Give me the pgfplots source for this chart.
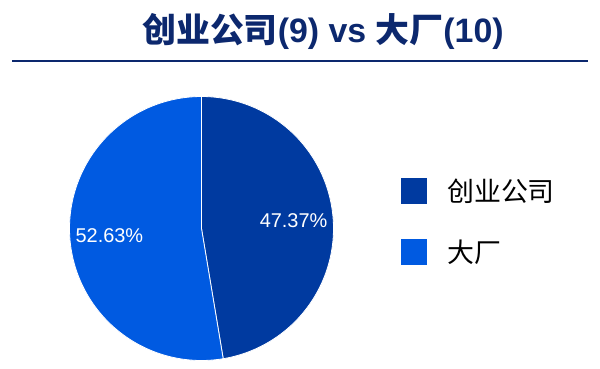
\documentclass[border=0pt]{standalone}
\usepackage{pgfplots}
\pgfplotsset{compat=1.18}
\usepackage{fontspec}
\setmainfont{Liberation Sans}
\newfontfamily\cjk{Noto Sans CJK SC}
\newfontfamily\cjkb{Noto Sans CJK SC Bold}
\definecolor{navy}{RGB}{12,40,110}
\definecolor{darkslice}{RGB}{0,58,160}
\definecolor{lightslice}{RGB}{0,90,225}
\begin{document}
\begin{tikzpicture}[x=1bp,y=1bp]
\path[use as bounding box] (0,0) rectangle (600,368);
\node[text=navy, font=\fontsize{34}{34}\selectfont\bfseries, inner sep=0pt] at (323,337)
  {{\cjkb 创业公司}(9) vs {\cjkb 大厂}(10)};
\draw[navy, line width=2bp] (12,307) -- (588,307);
% data: percentages of the two groups (9 and 10 of 19)
\def\pA{47.37}
\def\pB{52.63}
\pgfmathsetmacro\aEnd{90-3.6*\pA}
\pgfmathsetmacro\mA{90-1.8*\pA}
\pgfmathsetmacro\bEnd{\aEnd-3.6*\pB}
\pgfmathsetmacro\mB{\aEnd-1.8*\pB}
\begin{axis}[at={(201.5bp,139.5bp)}, anchor=origin, scale only axis,
  width=264bp, height=264bp, xmin=-1, xmax=1, ymin=-1, ymax=1,
  hide axis, clip=false,
  legend cell align=left,
  legend image code/.code={\path[#1, draw=none] (0bp,-13bp) rectangle (26bp,13bp);},
  legend style={at={(1.2557,0.691)}, anchor=north west, draw=none, fill=none,
    inner sep=0pt, nodes={inner sep=0pt},
    font=\cjk\fontsize{27}{27}\selectfont, row sep=35bp, column sep=20bp}]
\addplot[fill=darkslice, draw=white, line width=0.8bp, domain=\aEnd:90, samples=150, variable=\t]
  ({cos(t)},{sin(t)}) -- (axis cs:0,0) -- cycle;
\addlegendentry{创业公司}
\addplot[fill=lightslice, draw=white, line width=0.8bp, domain=\bEnd:\aEnd, samples=150, variable=\t]
  ({cos(t)},{sin(t)}) -- (axis cs:0,0) -- cycle;
\addlegendentry{大厂}
\node[text=white, font=\fontsize{20}{20}\selectfont] at (axis cs:{0.7*cos(\mA)},{0.7*sin(\mA)}) {\pA\%};
\node[text=white, font=\fontsize{20}{20}\selectfont] at (axis cs:{0.7*cos(\mB)},{0.7*sin(\mB)}) {\pB\%};
\end{axis}
\end{tikzpicture}
\end{document}
